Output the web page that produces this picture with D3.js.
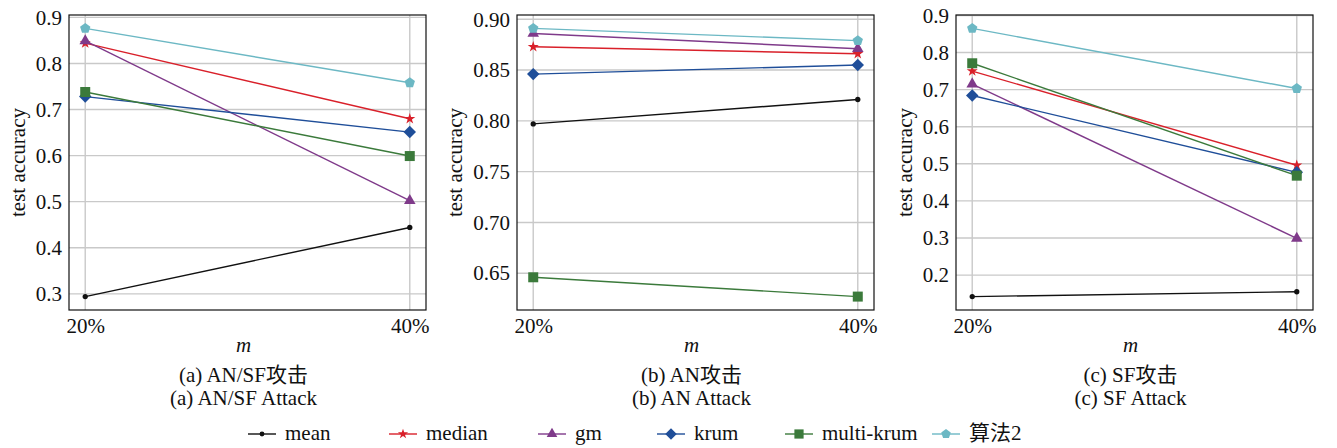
<!DOCTYPE html>
<html>
<head>
<meta charset="utf-8">
<script src="https://cdn.jsdelivr.net/npm/d3@7"></script>
<style>
  html, body { margin: 0; padding: 0; background: #fff; }
  svg { display: block; }
</style>
</head>
<body>
<svg id="chart" width="1337" height="448"></svg>
<script>
// ---------- data ----------
const categories = ["20%", "40%"];
const seriesNames = ["mean", "median", "gm", "krum", "multi-krum", "算法2"];

// panel (a) AN/SF attack
const anSfMean      = [0.294, 0.444];
const anSfMedian    = [0.844, 0.680];
const anSfGm        = [0.849, 0.502];
const anSfKrum      = [0.728, 0.651];
const anSfMultiKrum = [0.738, 0.599];
const anSfAlg2      = [0.876, 0.758];

// panel (b) AN attack
const anMean      = [0.797, 0.821];
const anMedian    = [0.873, 0.866];
const anGm        = [0.886, 0.871];
const anKrum      = [0.846, 0.855];
const anMultiKrum = [0.646, 0.627];
const anAlg2      = [0.891, 0.879];

// panel (c) SF attack
const sfMean      = [0.142, 0.155];
const sfMedian    = [0.750, 0.496];
const sfGm        = [0.715, 0.299];
const sfKrum      = [0.684, 0.477];
const sfMultiKrum = [0.771, 0.468];
const sfAlg2      = [0.865, 0.703];

const ticksA = [0.3, 0.4, 0.5, 0.6, 0.7, 0.8, 0.9];
const ticksB = [0.65, 0.70, 0.75, 0.80, 0.85, 0.90];
const ticksC = [0.2, 0.3, 0.4, 0.5, 0.6, 0.7, 0.8, 0.9];

const captionsCn = ["(a) AN/SF攻击", "(b) AN攻击", "(c) SF攻击"];
const captionsEn = ["(a) AN/SF Attack", "(b) AN Attack", "(c) SF Attack"];

// ---------- styles ----------
const FONT = "'Liberation Serif', 'Noto Sans CJK SC', serif";
const colors = ["#111111", "#d9202a", "#7f3a8a", "#1f4e99", "#3b7a3b", "#6cb8c4"];

const pentagon = {
  draw(ctx, size) {
    const r = Math.sqrt(size / 2.3776);
    for (let i = 0; i < 5; i++) {
      const a = -Math.PI / 2 + i * 2 * Math.PI / 5;
      const x = r * Math.cos(a), y = r * Math.sin(a);
      if (i === 0) ctx.moveTo(x, y); else ctx.lineTo(x, y);
    }
    ctx.closePath();
  }
};
const markers = [
  { type: d3.symbolCircle, size: 22, rot: 0 },
  { type: d3.symbolStar, size: 38, rot: 0 },
  { type: d3.symbolTriangle, size: 58, rot: 0 },
  { type: d3.symbolSquare, size: 78, rot: 45 },
  { type: d3.symbolSquare, size: 100, rot: 0 },
  { type: pentagon, size: 70, rot: 0 }
];

const panels = [
  { series: [anSfMean, anSfMedian, anSfGm, anSfKrum, anSfMultiKrum, anSfAlg2], ticks: ticksA, fmt: ".1f", left: 69 },
  { series: [anMean, anMedian, anGm, anKrum, anMultiKrum, anAlg2], ticks: ticksB, fmt: ".2f", left: 517 },
  { series: [sfMean, sfMedian, sfGm, sfKrum, sfMultiKrum, sfAlg2], ticks: ticksC, fmt: ".1f", left: 956 }
];

const plotW = 357, plotTop = 15, plotBottom = 310;
const svg = d3.select("#chart");

function styleText(sel, italic) {
  sel.style("font-family", FONT).style("font-size", "21px").attr("fill", "#111");
  if (italic) sel.style("font-style", "italic");
  return sel;
}

panels.forEach((p, pi) => {
  const all = p.series.flat();
  const lo = d3.min(all), hi = d3.max(all), span = hi - lo;
  const y = d3.scaleLinear().domain([lo - 0.05 * span, hi + 0.05 * span]).range([plotBottom, plotTop]);
  const xi = d3.scaleLinear().domain([-0.05, 1.05]).range([p.left, p.left + plotW]);
  const x = c => xi(categories.indexOf(c));

  const g = svg.append("g");

  // grid
  g.selectAll(".hg").data(p.ticks).join("line")
    .attr("x1", p.left).attr("x2", p.left + plotW)
    .attr("y1", d => y(d)).attr("y2", d => y(d))
    .attr("stroke", "#c9c9c9").attr("stroke-width", 1.4);
  g.selectAll(".vg").data(categories).join("line")
    .attr("x1", d => x(d)).attr("x2", d => x(d))
    .attr("y1", plotTop).attr("y2", plotBottom)
    .attr("stroke", "#c9c9c9").attr("stroke-width", 1.4);

  // series
  p.series.forEach((vals, si) => {
    const pts = categories.map((c, i) => [x(c), y(vals[i])]);
    g.append("path").attr("d", d3.line()(pts))
      .attr("fill", "none").attr("stroke", colors[si]).attr("stroke-width", 1.4);
    const m = markers[si];
    g.selectAll(null).data(pts).join("path")
      .attr("transform", d => `translate(${d[0]},${d[1]}) rotate(${m.rot})`)
      .attr("d", d3.symbol().type(m.type).size(m.size))
      .attr("fill", colors[si]);
  });

  // frame
  g.append("rect").attr("x", p.left).attr("y", plotTop)
    .attr("width", plotW).attr("height", plotBottom - plotTop)
    .attr("fill", "none").attr("stroke", "#111").attr("stroke-width", 1.2);

  // axes
  const yAx = g.append("g").attr("transform", `translate(${p.left},0)`)
    .call(d3.axisLeft(y).tickValues(p.ticks).tickFormat(d3.format(p.fmt)).tickSize(0).tickPadding(7));
  yAx.attr("font-family", null).attr("font-size", null);
  yAx.select(".domain").remove();
  styleText(yAx.selectAll("text"));

  const xAx = g.append("g").attr("transform", `translate(0,${plotBottom})`)
    .call(d3.axisBottom(d3.scalePoint().domain(categories).range([x(categories[0]), x(categories[1])])).tickSize(0).tickPadding(8));
  xAx.attr("font-family", null).attr("font-size", null);
  xAx.select(".domain").remove();
  styleText(xAx.selectAll("text"));

  // y label
  const bb = yAx.node().getBBox();
  const lx = p.left + bb.x - 18;
  styleText(g.append("text")
    .attr("transform", `translate(${lx},${(plotTop + plotBottom) / 2}) rotate(-90)`)
    .attr("text-anchor", "middle").attr("dominant-baseline", "central")
    .text("test accuracy"));

  const cx = p.left + plotW / 2;
  styleText(g.append("text").attr("x", cx - 4).attr("y", 352).attr("text-anchor", "middle").text("m"), true);
  styleText(g.append("text").attr("x", cx - 4).attr("y", 382).attr("text-anchor", "middle").text(captionsCn[pi]));
  styleText(g.append("text").attr("x", cx - 4).attr("y", 405).attr("text-anchor", "middle").text(captionsEn[pi]));
});

// legend
const legendX = [248, 389, 538, 657, 785, 932];
const lg = svg.append("g");
seriesNames.forEach((name, i) => {
  const x0 = legendX[i], yy = 434;
  lg.append("line").attr("x1", x0).attr("x2", x0 + 28).attr("y1", yy).attr("y2", yy)
    .attr("stroke", colors[i]).attr("stroke-width", 1.4);
  const m = markers[i];
  lg.append("path").attr("transform", `translate(${x0 + 14},${yy}) rotate(${m.rot})`)
    .attr("d", d3.symbol().type(m.type).size(m.size * 0.85)).attr("fill", colors[i]);
  styleText(lg.append("text").attr("x", x0 + 37).attr("y", yy + 6).text(name));
});
</script>
</body>
</html>
